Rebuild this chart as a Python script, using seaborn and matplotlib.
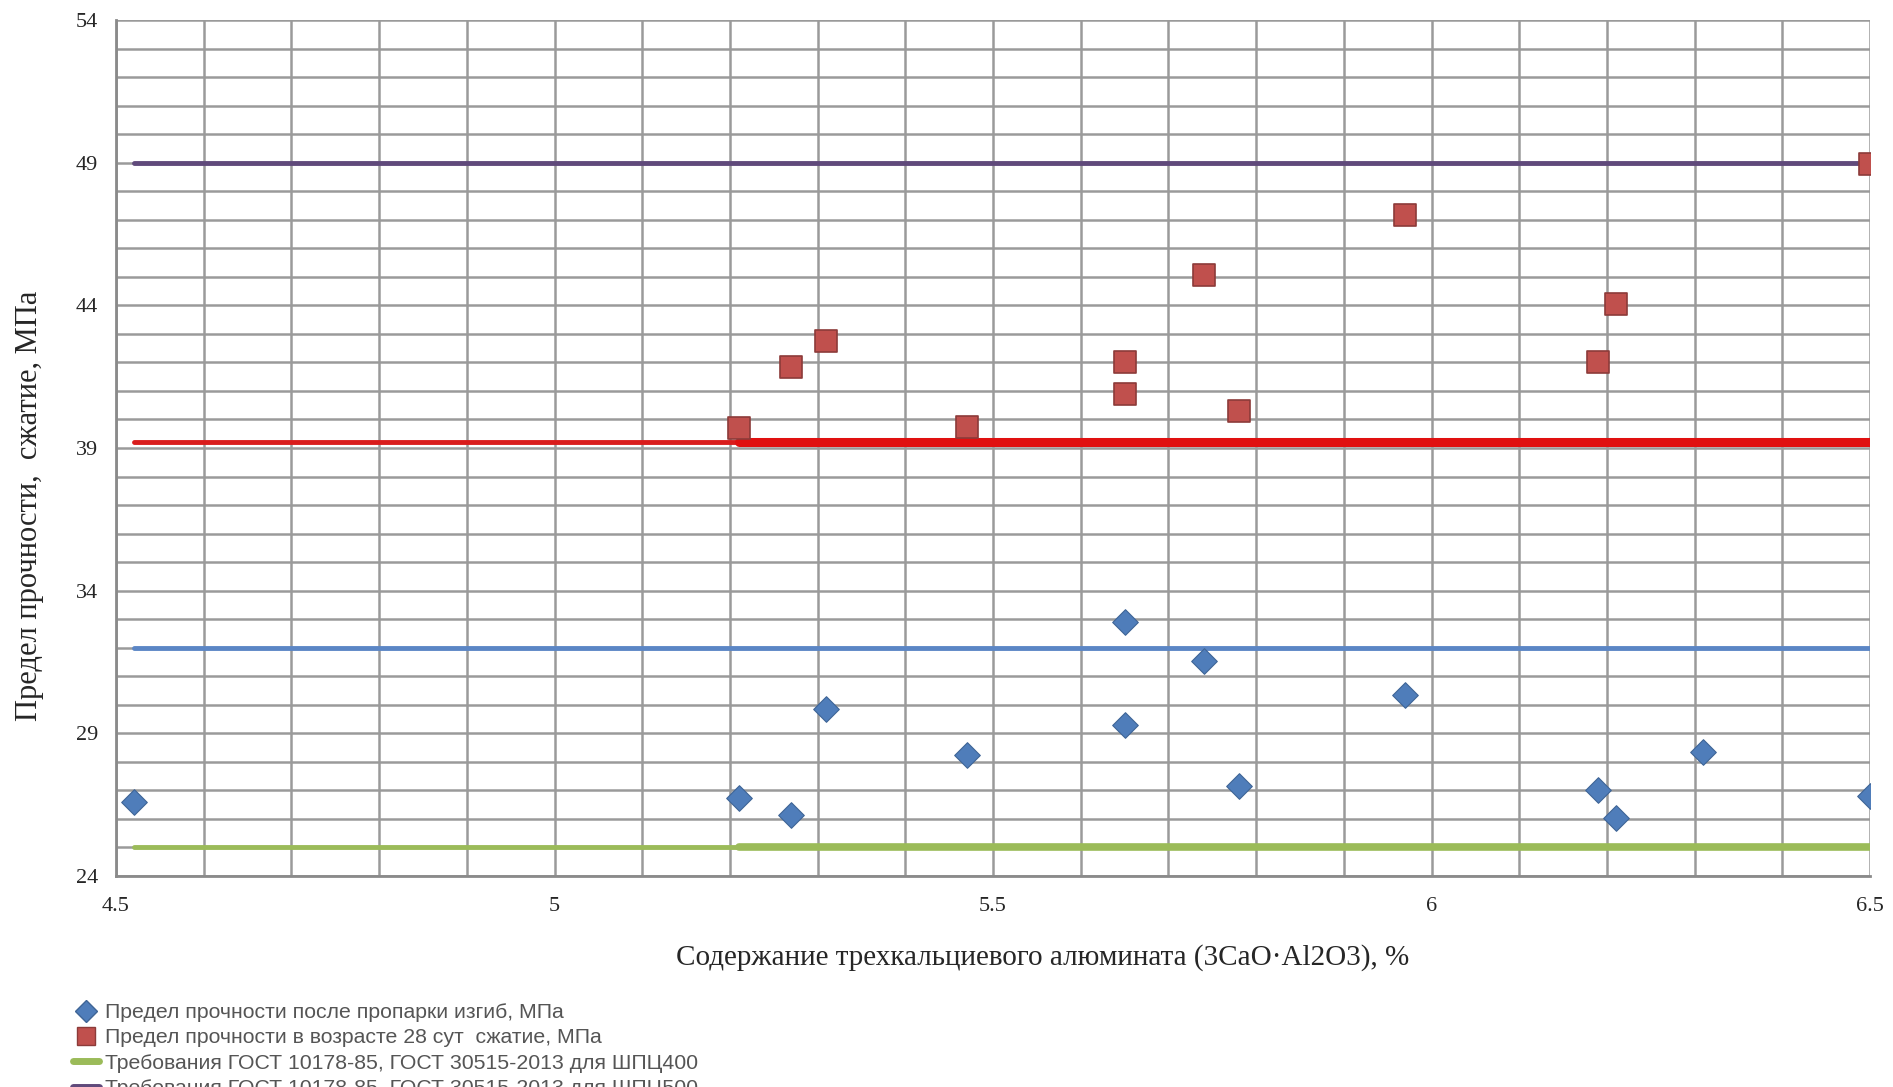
import matplotlib
matplotlib.use("Agg")
import matplotlib.pyplot as plt
from matplotlib.ticker import MultipleLocator
from matplotlib.lines import Line2D
import seaborn as sns
import pandas as pd

# data
xBend = [4.52, 5.21, 5.27, 5.31, 5.47, 5.65, 5.65, 5.74, 5.78, 5.97, 6.19, 6.21, 6.31, 6.5]
yBend = [26.6, 26.75, 26.15, 29.85, 28.25, 32.9, 29.3, 31.55, 27.15, 30.35, 27.0, 26.05, 28.35, 26.8]
xComp = [5.21, 5.27, 5.31, 5.47, 5.65, 5.65, 5.74, 5.78, 5.97, 6.19, 6.21, 6.5]
yComp = [39.7, 41.85, 42.75, 39.75, 42.0, 40.9, 45.05, 40.3, 47.15, 42.0, 44.05, 48.95]
lineX = [4.52, 6.5]
lineX2 = [5.21, 6.5]
reqGreen = 25.0    # ШПЦ400
reqPurple = 49.0   # ШПЦ500
reqRed = 39.2
reqBlue = 32.0

labels = ['Предел прочности после пропарки изгиб, МПа',
          'Предел прочности в возрасте 28 сут  сжатие, МПа',
          'Требования ГОСТ 10178-85, ГОСТ 30515-2013 для ШПЦ400',
          'Требования ГОСТ 10178-85, ГОСТ 30515-2013 для ШПЦ500']

sns.set_style("white")
plt.rcParams['font.family'] = ['Liberation Serif', 'DejaVu Serif']

fig = plt.figure(figsize=(18.93, 10.87), dpi=100)
ax = fig.add_axes([0.0613, 0.1941, 0.9266, 0.7875])

bend = pd.DataFrame({'x': xBend, 'y': yBend})
comp = pd.DataFrame({'x': xComp, 'y': yComp})

def hline(y, xs, color, lw):
    d = pd.DataFrame({'x': xs, 'y': [y] * len(xs)})
    sns.lineplot(data=d, x='x', y='y', color=color, lw=lw, ax=ax, zorder=3)

hline(reqPurple, lineX, '#604A7B', 3.5)
hline(reqRed, lineX, '#D91C1C', 3.5)
hline(reqRed, lineX2, '#E01010', 6.5)
hline(reqBlue, lineX, '#5B86C5', 3.5)
hline(reqGreen, lineX, '#9BBB59', 3.5)
hline(reqGreen, lineX2, '#9BBB59', 5.5)

sns.scatterplot(data=bend, x='x', y='y', marker='D', s=170, color='#4F7DBA',
                edgecolor='#3F6596', linewidth=0.8, ax=ax, zorder=4)
sns.scatterplot(data=comp, x='x', y='y', marker='s', s=240, color='#C0504D',
                edgecolor='#8C3B39', linewidth=1.2, ax=ax, zorder=4)

ax.set_xlim(4.5, 6.5)
ax.set_ylim(24, 54)
ax.xaxis.set_major_locator(MultipleLocator(0.5))
ax.xaxis.set_minor_locator(MultipleLocator(0.1))
ax.yaxis.set_major_locator(MultipleLocator(5))
ax.yaxis.set_minor_locator(MultipleLocator(1))
ax.set_yticks([24, 29, 34, 39, 44, 49, 54])
ax.set_xticks([4.5, 5, 5.5, 6, 6.5])
ax.set_xticklabels(['4.5', '5', '5.5', '6', '6.5'])
ax.grid(True, which='both', color='#9A9A9A', lw=1.8)
ax.set_axisbelow(True)
for s in ['top', 'right']:
    ax.spines[s].set_visible(False)
for s in ['left', 'bottom']:
    ax.spines[s].set_color('#8A8A8A')
    ax.spines[s].set_linewidth(2)
ax.tick_params(axis='both', which='major', direction='out', length=8, width=1.5,
               color='#8A8A8A', labelsize=16, pad=5)
ax.tick_params(axis='x', which='major', length=12, pad=3)
ax.tick_params(which='minor', length=0)

ax.set_xlabel('Содержание трехкальциевого алюмината (3CaO·Al2O3), %', fontsize=21)
ax.set_ylabel('Предел прочности,  сжатие, МПа', fontsize=22)
ax.xaxis.set_label_coords(0.528, -0.079)
ax.yaxis.set_label_coords(-0.041, 0.432)

handles = [
    Line2D([], [], ls='none', marker='D', ms=11, color='#4F7DBA', mec='#3F6596'),
    Line2D([], [], ls='none', marker='s', ms=13, color='#C0504D', mec='#8C3B39'),
    Line2D([], [], color='#9BBB59', lw=5),
    Line2D([], [], color='#604A7B', lw=5),
]
leg = fig.legend(handles, labels, loc='upper left', bbox_to_anchor=(0.033, 0.087),
                 frameon=False, prop={'family': 'Liberation Sans', 'size': 15.3},
                 handlelength=1.2, handletextpad=0.3, labelspacing=0.3, borderpad=0)
for t in leg.get_texts():
    t.set_color('#555555')

fig.savefig('out.png', dpi=100)
